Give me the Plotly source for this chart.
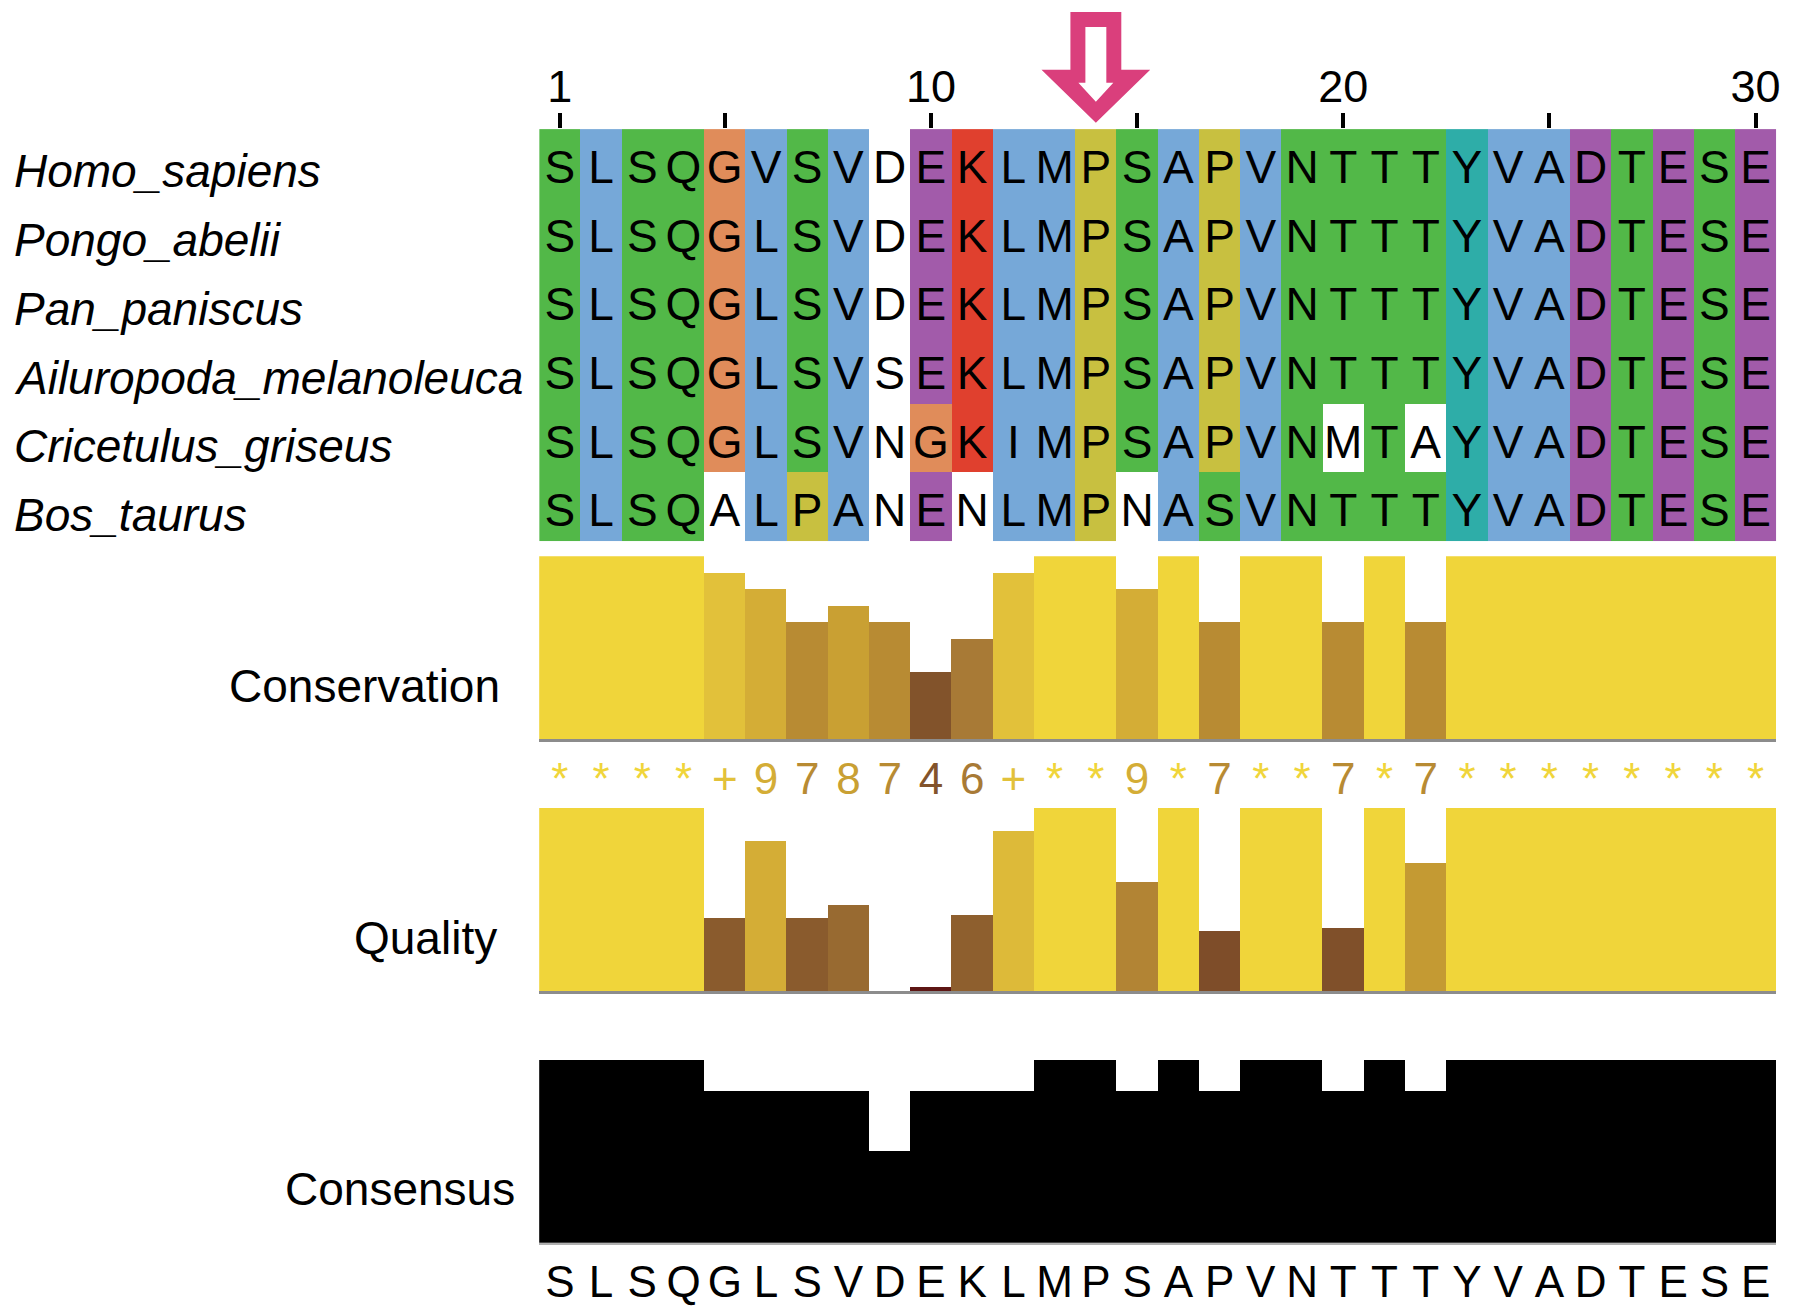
import numpy as np
import plotly.graph_objects as go

# ---------------- data ----------------
species = ["Homo_sapiens", "Pongo_abelii", "Pan_paniscus",
           "Ailuropoda_melanoleuca", "Cricetulus_griseus", "Bos_taurus"]
sequences = ["SLSQGVSVDEKLMPSAPVNTTTYVADTESE",
             "SLSQGLSVDEKLMPSAPVNTTTYVADTESE",
             "SLSQGLSVDEKLMPSAPVNTTTYVADTESE",
             "SLSQGLSVSEKLMPSAPVNTTTYVADTESE",
             "SLSQGLSVNGKIMPSAPVNMTAYVADTESE",
             "SLSQALPANENLMPNASVNTTTYVADTESE"]
# Clustal colour class of each residue (G green, B blue, P purple, R red,
# O orange, Y yellow, T teal, W white/uncoloured)
color_classes = ["GBGGOBGBWPRBBYGBYBGGGGTBBPGPGP",
                 "GBGGOBGBWPRBBYGBYBGGGGTBBPGPGP",
                 "GBGGOBGBWPRBBYGBYBGGGGTBBPGPGP",
                 "GBGGOBGBWPRBBYGBYBGGGGTBBPGPGP",
                 "GBGGOBGBWORBBYGBYBGWGWTBBPGPGP",
                 "GBGGWBYBWPWBBYWBGBGGGGTBBPGPGP"]
positions = list(range(1, 31))
position_ticks = [1, 5, 10, 15, 20, 25, 30]
position_tick_labels = ["1", "", "10", "", "20", "", "30"]
conservation_symbols = list("****+978746+**9*7**7*7********")
quality = [1, 1, 1, 1, 0.40, 0.82, 0.40, 0.47, 0.0, 0.024, 0.42, 0.875, 1, 1,
           0.60, 1, 0.33, 1, 1, 0.35, 1, 0.70, 1, 1, 1, 1, 1, 1, 1, 1]
consensus_pct = [100, 100, 100, 100, 83.3, 83.3, 83.3, 83.3, 50, 83.3, 83.3, 83.3,
                 100, 100, 83.3, 100, 83.3, 100, 100, 83.3, 100, 83.3,
                 100, 100, 100, 100, 100, 100, 100, 100]
consensus_seq = list("SLSQGLSVDEKLMPSAPVNTTTYVADTESE")
marked_position = 14
panel_labels = ["Conservation", "Quality", "Consensus"]

# ---------------- styles ----------------
OFF = 8                      # default page body margin
W, H = 1779, 1298
FONT = "Liberation Sans, Arial, Helvetica, sans-serif"
class_order = ["W", "G", "B", "P", "R", "O", "Y", "T"]
class_colors = ["#FFFFFF", "#52B848", "#76A8D8", "#A25BAA", "#E0402E",
                "#E08C5A", "#C8C040", "#2EADA8"]
grad_stops = [0.0, 0.364, 0.545, 0.636, 0.727, 0.818, 0.909, 1.0]
grad_cols = ["#5A1212", "#82532B", "#A87A36", "#B88B33", "#C9A033",
             "#D4AD36", "#E2C13A", "#F0D53A"]


def hex2rgb(h):
    h = h.lstrip("#")
    return np.array([int(h[i:i + 2], 16) for i in (0, 2, 4)], dtype=float)


def grad(v):
    rgbs = np.array([hex2rgb(c) for c in grad_cols])
    r = [np.interp(v, grad_stops, rgbs[:, k]) for k in range(3)]
    return "rgb(%d,%d,%d)" % tuple(int(round(x)) for x in r)


def px(p):
    return (p - OFF) / W


def py(p):
    return 1 - (p - OFF) / H


X0, X1 = px(540.4), px(1780.2)

cons_values = [11 if s == "*" else 10 if s == "+" else int(s) for s in conservation_symbols]
cons_colors = [grad(v / 11) for v in cons_values]
qual_colors = [grad(v) for v in quality]

# discrete colorscale for alignment
n = len(class_order)
cscale = []
for i, c in enumerate(class_colors):
    cscale.append([i / n, c])
    cscale.append([(i + 1) / n, c])
z = [[class_order.index(c) for c in row] for row in color_classes]
rows = list(range(len(species)))

fig = go.Figure()

fig.add_trace(go.Heatmap(
    z=z, x=positions, y=rows,
    colorscale=cscale, zmin=-0.5, zmax=n - 0.5, showscale=False,
    xgap=0, ygap=0, hoverinfo="skip", xaxis="x", yaxis="y"))

# residue letters (text layer sits slightly low in its cells, as in the original)
lx, ly, lt = [], [], []
for r, s in zip(rows, sequences):
    for p, ch in zip(positions, s):
        lx.append(p)
        ly.append(r)
        lt.append(ch)
fig.add_trace(go.Scatter(x=lx, y=ly, mode="text", text=lt,
                         textfont=dict(family=FONT, size=46, color="black"),
                         xaxis="x6", yaxis="y6", hoverinfo="skip"))

fig.add_trace(go.Bar(x=positions, y=cons_values, width=1.0,
                     marker=dict(color=cons_colors, line=dict(width=0)),
                     xaxis="x2", yaxis="y2", hoverinfo="skip"))

fig.add_trace(go.Scatter(x=positions, y=[0.5] * len(positions), mode="text",
                         text=conservation_symbols,
                         textfont=dict(family=FONT, size=44, color=cons_colors),
                         xaxis="x3", yaxis="y3", hoverinfo="skip"))

fig.add_trace(go.Bar(x=positions, y=quality, width=1.0,
                     marker=dict(color=qual_colors, line=dict(width=0)),
                     xaxis="x4", yaxis="y4", hoverinfo="skip"))

fig.add_trace(go.Bar(x=positions, y=consensus_pct, width=1.0,
                     marker=dict(color="black", line=dict(width=0)),
                     xaxis="x5", yaxis="y5", hoverinfo="skip"))

xr = [0.5, 30.5]
common_hidden_x = dict(domain=[X0, X1], range=xr, showgrid=False, zeroline=False,
                       showticklabels=False, ticks="")
fig.update_layout(
    width=W, height=H, margin=dict(l=0, r=0, t=0, b=0),
    paper_bgcolor="white", plot_bgcolor="rgba(0,0,0,0)", showlegend=False,
    bargap=0,
    xaxis=dict(domain=[X0, X1], range=xr, side="top", anchor="y",
               tickvals=position_ticks, ticktext=position_tick_labels,
               ticks="outside", ticklen=15, tickwidth=4, tickcolor="black",
               ticklabelstandoff=-7,
               tickfont=dict(family=FONT, size=45, color="black"),
               showgrid=False, zeroline=False, showline=False),
    yaxis=dict(domain=[py(542.6), py(129.4)], range=[5.5, -0.5], visible=False),
    xaxis6=dict(common_hidden_x, anchor="y6", visible=False),
    yaxis6=dict(domain=[py(542.6 + 8), py(129.4 + 8)], range=[5.5, -0.5], visible=False),
    xaxis2=dict(common_hidden_x, anchor="y2", showline=True, linecolor="#8C8C8C", linewidth=3),
    yaxis2=dict(domain=[py(740.7), py(557.5)], range=[0, 11], visible=False),
    xaxis3=dict(common_hidden_x, anchor="y3", visible=False),
    yaxis3=dict(domain=[py(811), py(758)], range=[0, 1], visible=False),
    xaxis4=dict(common_hidden_x, anchor="y4", showline=True, linecolor="#8C8C8C", linewidth=3),
    yaxis4=dict(domain=[py(993.7), py(809.4)], range=[0, 1], visible=False),
    xaxis5=dict(domain=[X0, X1], range=xr, anchor="y5", showline=True,
                linecolor="#B0B0B0", linewidth=2, showgrid=False, zeroline=False,
                tickvals=positions, ticktext=consensus_seq, ticks="",
                ticklabelstandoff=-1,
                tickfont=dict(family=FONT, size=44, color="black")),
    yaxis5=dict(domain=[py(1245.6), py(1062.4)], range=[0, 100], visible=False),
)

# species names
for i, name in zip(rows, species):
    fig.add_annotation(text="<i>%s</i>" % name, xref="paper", yref="y6",
                       x=px(12), y=i, xanchor="left", yanchor="middle",
                       showarrow=False, font=dict(family=FONT, size=46, color="black"))

# panel labels
label_right = [503, 500, 518]
for lab, ax, xr_px in zip(panel_labels, ["y2", "y4", "y5"], label_right):
    fig.add_annotation(text=lab, xref="paper", yref=ax + " domain",
                       x=px(xr_px), y=0.292, xanchor="right", yanchor="middle",
                       showarrow=False, font=dict(family=FONT, size=46, color="black"))

# marker arrow above the highlighted column
col_px = (1780.2 - 540.4) / 30


def arrow_path(cx, shaft_half, head_half, y_top, y_head, y_tip):
    pts = [(cx - shaft_half, y_top), (cx + shaft_half, y_top), (cx + shaft_half, y_head),
           (cx + head_half, y_head), (cx, y_tip), (cx - head_half, y_head),
           (cx - shaft_half, y_head)]
    return "M " + " L ".join("%.4f,%.5f" % (x, py(y)) for x, y in pts) + " Z"


fig.add_shape(type="path", xref="x", yref="paper",
              path=arrow_path(marked_position, 25.5 / col_px, 54.5 / col_px, 12, 70, 123),
              fillcolor="#DA3F7C", line=dict(width=0))
fig.add_shape(type="path", xref="x", yref="paper",
              path=arrow_path(marked_position, 10.5 / col_px, 17.5 / col_px, 27, 83, 102),
              fillcolor="white", line=dict(width=0))

fig.write_html("out.html")
